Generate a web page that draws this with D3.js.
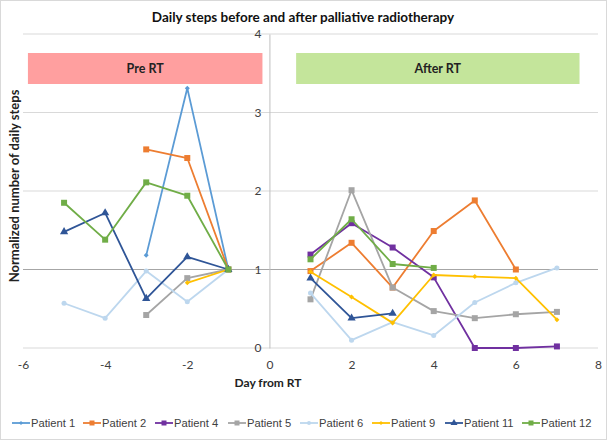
<!DOCTYPE html>
<html>
<head>
<meta charset="utf-8">
<script src="https://cdn.jsdelivr.net/npm/d3@7"></script>
<style>
body { margin:0; background:#fff; }
svg { display:block; }
</style>
</head>
<body>
<svg id="chart" width="607" height="440"></svg>
<script>
const days = [-5,-4,-3,-2,-1,1,2,3,4,5,6,7];
const xTicks = [-6,-4,-2,0,2,4,6,8];
const yTicks = [0,1,2,3,4];
const seriesNames = ["Patient 1","Patient 2","Patient 4","Patient 5","Patient 6","Patient 9","Patient 11","Patient 12"];
const seriesColors = ["#5B9BD5","#ED7D31","#7030A0","#A5A5A5","#BDD7EE","#FFC000","#2F5597","#70AD47"];
const seriesMarkers = ["diamond","square","square","square","circle","diamond","triangle","square"];
const p1  = [null,null,1.18,3.31,1.00, null,null,null,null,null,null,null];
const p2  = [null,null,2.53,2.42,1.00, 0.98,1.34,0.77,1.49,1.88,1.00,null];
const p4  = [null,null,null,null,null, 1.19,1.59,1.28,0.90,0.00,0.00,0.02];
const p5  = [null,null,0.42,0.89,1.00, 0.62,2.01,0.77,0.47,0.38,0.43,0.46];
const p6  = [0.57,0.38,0.98,0.59,1.00, 0.70,0.10,0.33,0.16,0.58,0.83,1.02];
const p9  = [null,null,null,0.83,1.00, 0.97,0.65,0.32,0.93,0.91,0.89,0.36];
const p11 = [1.48,1.72,0.63,1.16,1.00, 0.89,0.38,0.44,null,null,null,null];
const p12 = [1.85,1.38,2.11,1.94,1.00, 1.13,1.64,1.07,1.02,null,null,null];
const seriesValues = [p1,p2,p4,p5,p6,p9,p11,p12];
const title = "Daily steps before and after palliative radiotherapy";
const xTitle = "Day from RT";
const yTitle = "Normalized  number of daily steps";
const phaseLabels = ["Pre RT","After RT"];
const phaseRanges = [[-5.88,-0.17],[0.65,7.55]];
const phaseColors = ["#FF9F9F","#C4E59B"];

const svg = d3.select("#chart");
const W = 607, H = 440;
const font = "Lato, 'Open Sans', sans-serif";

svg.append("rect").attr("x",0.5).attr("y",0.5).attr("width",W-1).attr("height",H-1)
  .attr("fill","#fff").attr("stroke","#D9D9D9");

const x = d3.scaleLinear().domain([-6,8]).range([23,598]);
const y = d3.scaleLinear().domain([0,4]).range([348,34]);

// gridlines
svg.append("g").selectAll("line").data(yTicks).join("line")
  .attr("x1",x(-6)).attr("x2",x(8))
  .attr("y1",d=>y(d)).attr("y2",d=>y(d))
  .attr("stroke",d=>d===1?"#A6A6A6":"#D9D9D9").attr("stroke-width",1);

const fmt = d => String(d);

// vertical axis at x=0
const yAxis = d3.axisLeft(y).tickValues(yTicks).tickSize(0).tickPadding(8).tickFormat(fmt);
const gy = svg.append("g").attr("transform",`translate(${x(0)},0)`).call(yAxis);
gy.select(".domain").attr("stroke","#BFBFBF");
gy.selectAll("text").attr("font-family",font).attr("font-size",12).attr("fill","#404040");

// x axis labels
const xAxis = d3.axisBottom(x).tickValues(xTicks).tickSize(0).tickPadding(12).tickFormat(fmt);
const gx = svg.append("g").attr("transform",`translate(0,${y(0)})`).call(xAxis);
gx.select(".domain").remove();
gx.selectAll("text").attr("font-family",font).attr("font-size",12).attr("fill","#404040");

// phase boxes
phaseLabels.forEach((lab,i)=>{
  const [a,b] = phaseRanges[i];
  svg.append("rect").attr("x",x(a)).attr("y",53).attr("width",x(b)-x(a)).attr("height",31)
    .attr("fill",phaseColors[i]);
  svg.append("text").attr("x",(x(a)+x(b))/2).attr("y",73).attr("text-anchor","middle")
    .attr("font-family",font).attr("font-weight","bold").attr("font-size",12.5).attr("fill","#222")
    .text(lab);
});

// marker paths
function markerPath(type, s) {
  if (type==="square") return d3.symbol(d3.symbolSquare, s*s)();
  if (type==="diamond") return `M0,${-s/2}L${s/2},0L0,${s/2}L${-s/2},0Z`;
  if (type==="triangle") return d3.symbol(d3.symbolTriangle, s*s*0.6)();
  return d3.symbol(d3.symbolCircle, s*s*0.8)();
}
const markerSize = {square:6, diamond:5, triangle:7, circle:5};

const line = d3.line().defined(d=>d.v!==null).x(d=>x(d.d)).y(d=>y(d.v));

seriesValues.forEach((vals,i)=>{
  const pts = days.map((d,j)=>({d, v: vals[j]}));
  const g = svg.append("g");
  // pre and post segments are separate (no line across day 0)
  [pts.filter(p=>p.d<0), pts.filter(p=>p.d>0)].forEach(seg=>{
    g.append("path").attr("d", line(seg)).attr("fill","none")
      .attr("stroke", seriesColors[i]).attr("stroke-width", 1.8).attr("stroke-linejoin","round");
  });
  g.selectAll("path.m").data(pts.filter(p=>p.v!==null)).join("path").attr("class","m")
    .attr("transform", p=>`translate(${x(p.d)},${y(p.v)})`)
    .attr("d", markerPath(seriesMarkers[i], markerSize[seriesMarkers[i]]))
    .attr("fill", seriesColors[i]);
});

// title
svg.append("text").attr("x",303).attr("y",22).attr("text-anchor","middle")
  .attr("font-family",font).attr("font-weight","bold").attr("font-size",13.5).attr("fill","#111")
  .text(title);

// axis titles
svg.append("text").attr("x",268).attr("y",387).attr("text-anchor","middle")
  .attr("font-family",font).attr("font-weight","bold").attr("font-size",12).attr("fill","#222")
  .text(xTitle);
svg.append("text").attr("transform","translate(19,186) rotate(-90)").attr("text-anchor","middle")
  .attr("font-family",font).attr("font-weight","bold").attr("font-size",13).attr("fill","#222")
  .text(yTitle);

// legend
const legX = [12,83,155,228,300,372,445,522];
seriesNames.forEach((n,i)=>{
  const g = svg.append("g").attr("transform",`translate(${legX[i]},423)`);
  g.append("line").attr("x1",0).attr("x2",18).attr("y1",0).attr("y2",0)
    .attr("stroke",seriesColors[i]).attr("stroke-width",1.8);
  g.append("path").attr("transform","translate(9,0)")
    .attr("d", markerPath(seriesMarkers[i], markerSize[seriesMarkers[i]]-1)).attr("fill",seriesColors[i]);
  g.append("text").attr("x",19).attr("y",4).attr("font-family","'Liberation Sans', Arial, sans-serif")
    .attr("font-size",11.2).attr("fill","#404040").text(n);
});
</script>
</body>
</html>
